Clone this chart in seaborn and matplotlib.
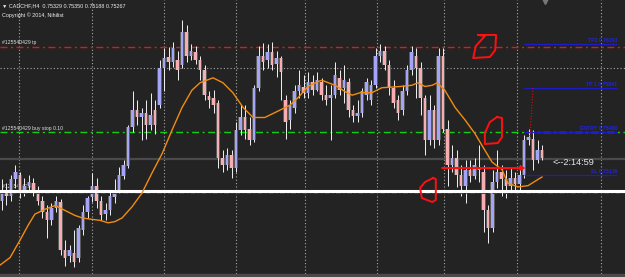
import matplotlib
matplotlib.use("Agg")
import matplotlib.pyplot as plt
import seaborn as sns
import pandas as pd
import numpy as np

# ---------------- data ----------------
opens = [0.7493, 0.7501, 0.7497, 0.7510, 0.7514, 0.7501, 0.7505, 0.7507, 0.7501, 0.7493,
         0.7484, 0.7477, 0.7487, 0.7492, 0.7453, 0.7448, 0.7451, 0.7447, 0.7469, 0.7484,
         0.7496, 0.7505, 0.7493, 0.7482, 0.7485, 0.7496, 0.7501, 0.7513, 0.7521, 0.7552,
         0.7566, 0.7560, 0.7564, 0.7554, 0.7566, 0.7570, 0.7600, 0.7609, 0.7605, 0.7606,
         0.7602, 0.7629, 0.7610, 0.7613, 0.7606, 0.7598, 0.7577, 0.7576, 0.7572, 0.7527,
         0.7522, 0.7530, 0.7519, 0.7550, 0.7560, 0.7551, 0.7542, 0.7584, 0.7610, 0.7606,
         0.7613, 0.7603, 0.7608, 0.7574, 0.7558, 0.7568, 0.7581, 0.7585, 0.7580, 0.7589,
         0.7582, 0.7589, 0.7578, 0.7576, 0.7578, 0.7592, 0.7584, 0.7589, 0.7566, 0.7561,
         0.7564, 0.7578, 0.7574, 0.7586, 0.7610, 0.7614, 0.7602, 0.7584, 0.7574, 0.7566,
         0.7581, 0.7598, 0.7610, 0.7600, 0.7576, 0.7542, 0.7566, 0.7542, 0.7610, 0.7551,
         0.7522, 0.7527, 0.7514, 0.7505, 0.7518, 0.7513, 0.7520, 0.7516, 0.7485, 0.7471,
         0.7508, 0.7516, 0.7510, 0.7505, 0.7511, 0.7506, 0.7514, 0.7542, 0.7543, 0.7526,
         0.7534]
highs = [0.7510, 0.7507, 0.7514, 0.7522, 0.7516, 0.7511, 0.7514, 0.7511, 0.7505, 0.7497,
         0.7489, 0.7491, 0.7497, 0.7494, 0.7461, 0.7457, 0.7469, 0.7473, 0.7489, 0.7497,
         0.7515, 0.7511, 0.7497, 0.7491, 0.7500, 0.7510, 0.7520, 0.7526, 0.7554, 0.7581,
         0.7574, 0.7568, 0.7574, 0.7580, 0.7574, 0.7606, 0.7616, 0.7617, 0.7621, 0.7614,
         0.7639, 0.7635, 0.7619, 0.7618, 0.7610, 0.7602, 0.7581, 0.7582, 0.7574, 0.7534,
         0.7535, 0.7534, 0.7556, 0.7570, 0.7570, 0.7560, 0.7586, 0.7618, 0.7620, 0.7619,
         0.7621, 0.7614, 0.7610, 0.7578, 0.7574, 0.7586, 0.7598, 0.7594, 0.7597, 0.7594,
         0.7597, 0.7592, 0.7586, 0.7586, 0.7605, 0.7598, 0.7602, 0.7592, 0.7570, 0.7574,
         0.7584, 0.7592, 0.7590, 0.7616, 0.7619, 0.7618, 0.7606, 0.7590, 0.7578, 0.7586,
         0.7602, 0.7618, 0.7616, 0.7605, 0.7578, 0.7578, 0.7570, 0.7616, 0.7616, 0.7558,
         0.7538, 0.7534, 0.7522, 0.7526, 0.7526, 0.7527, 0.7538, 0.7522, 0.7489, 0.7518,
         0.7534, 0.7522, 0.7518, 0.7519, 0.7516, 0.7522, 0.7546, 0.7551, 0.7550, 0.7542,
         0.7538]
lows = [0.7485, 0.7489, 0.7493, 0.7503, 0.7495, 0.7497, 0.7500, 0.7497, 0.7489, 0.7479,
        0.7463, 0.7473, 0.7484, 0.7449, 0.7440, 0.7443, 0.7439, 0.7443, 0.7465, 0.7479,
        0.7492, 0.7487, 0.7477, 0.7477, 0.7481, 0.7491, 0.7499, 0.7510, 0.7519, 0.7548,
        0.7554, 0.7542, 0.7543, 0.7550, 0.7547, 0.7568, 0.7581, 0.7598, 0.7601, 0.7590,
        0.7600, 0.7605, 0.7606, 0.7603, 0.7590, 0.7574, 0.7568, 0.7564, 0.7519, 0.7516,
        0.7518, 0.7511, 0.7516, 0.7546, 0.7543, 0.7538, 0.7540, 0.7581, 0.7598, 0.7600,
        0.7598, 0.7593, 0.7574, 0.7543, 0.7551, 0.7564, 0.7576, 0.7576, 0.7576, 0.7578,
        0.7581, 0.7574, 0.7570, 0.7542, 0.7576, 0.7578, 0.7572, 0.7560, 0.7556, 0.7556,
        0.7560, 0.7574, 0.7570, 0.7584, 0.7605, 0.7598, 0.7578, 0.7568, 0.7558, 0.7562,
        0.7578, 0.7594, 0.7576, 0.7562, 0.7530, 0.7538, 0.7535, 0.7538, 0.7548, 0.7505,
        0.7516, 0.7504, 0.7497, 0.7491, 0.7508, 0.7510, 0.7508, 0.7468, 0.7459, 0.7468,
        0.7503, 0.7497, 0.7495, 0.7500, 0.7501, 0.7501, 0.7511, 0.7538, 0.7518, 0.7523,
        0.7526]
closes = [0.7501, 0.7497, 0.7510, 0.7516, 0.7501, 0.7505, 0.7508, 0.7501, 0.7493, 0.7484,
          0.7477, 0.7487, 0.7493, 0.7453, 0.7447, 0.7453, 0.7443, 0.7471, 0.7484, 0.7495,
          0.7505, 0.7493, 0.7481, 0.7485, 0.7497, 0.7501, 0.7514, 0.7522, 0.7552, 0.7566,
          0.7560, 0.7564, 0.7554, 0.7562, 0.7554, 0.7600, 0.7608, 0.7605, 0.7616, 0.7598,
          0.7629, 0.7610, 0.7614, 0.7606, 0.7598, 0.7578, 0.7574, 0.7570, 0.7527, 0.7522,
          0.7530, 0.7519, 0.7550, 0.7560, 0.7550, 0.7542, 0.7584, 0.7610, 0.7605, 0.7613,
          0.7602, 0.7608, 0.7597, 0.7556, 0.7570, 0.7581, 0.7586, 0.7580, 0.7589, 0.7582,
          0.7590, 0.7578, 0.7574, 0.7578, 0.7594, 0.7582, 0.7590, 0.7566, 0.7561, 0.7564,
          0.7581, 0.7589, 0.7586, 0.7610, 0.7614, 0.7602, 0.7584, 0.7572, 0.7564, 0.7581,
          0.7598, 0.7613, 0.7600, 0.7576, 0.7542, 0.7566, 0.7542, 0.7610, 0.7551, 0.7522,
          0.7527, 0.7514, 0.7505, 0.7518, 0.7513, 0.7522, 0.7518, 0.7485, 0.7471, 0.7508,
          0.7516, 0.7510, 0.7505, 0.7511, 0.7506, 0.7514, 0.7542, 0.7544, 0.7526, 0.7534,
          0.7527]

# moving average (orange), read as (bar index, price) points
ma_bar = [-0.4, 1.8, 4.0, 5.8, 7.3, 9.6, 11.8, 14.0, 16.2, 17.8, 19.6, 21.8, 23.6, 25.1,
          26.7, 28.9, 31.1, 33.3, 35.6, 37.8, 40.0, 42.2, 44.0, 46.9, 49.1, 51.3, 53.6,
          55.8, 58.4, 61.8, 64.0, 65.8, 68.0, 70.2, 71.1, 74.0, 76.2, 77.8, 79.6, 82.2,
          84.4, 88.4, 91.1, 92.4, 94.0, 95.6, 96.7, 98.4, 100.7, 102.9, 105.1, 106.9,
          108.9, 111.1, 112.4, 114.7, 116.9, 119.1, 120.0]
ma_val = [0.7441, 0.7447, 0.7461, 0.7473, 0.7482, 0.7486, 0.7489, 0.7485, 0.7481, 0.7479,
          0.7478, 0.7477, 0.7475, 0.7476, 0.7479, 0.7488, 0.7499, 0.7515, 0.7531, 0.7550,
          0.7568, 0.7582, 0.7588, 0.7592, 0.7588, 0.7580, 0.7568, 0.7560, 0.7560, 0.7566,
          0.7570, 0.7576, 0.7585, 0.7589, 0.7590, 0.7586, 0.7581, 0.7578, 0.7580, 0.7580,
          0.7584, 0.7585, 0.7586, 0.7588, 0.7585, 0.7586, 0.7588, 0.7582, 0.7568, 0.7558,
          0.7547, 0.7536, 0.7524, 0.7518, 0.7507, 0.7504, 0.7505, 0.7510, 0.7512]

# order levels
tp_order = 0.7617
buy_stop = 0.75480
bid = 0.75267
round_level = 0.7501
sl_order = 0.7499
grid_price = 0.7600
grid_bars = [3.8, 20.0, 36.0, 52.0, 67.3, 83.3, 98.2, 114.4, 133.1]

level_names = ["TP2 0.76193", "TP 1 0.75841", "ENTRY 0.75480", "SL 0.75136"]
level_prices = [0.76193, 0.75841, 0.75480, 0.75136]

header = "\u25BC CADCHF,H4  0.75329 0.75350 0.75188 0.75267"
copyright_txt = "Copyright \u00A9 2014, Nihilist"
timer_txt = "<--2:14:59"

# hand-drawn red marks (bar index, price)
mark1_x = [105.8, 109.8, 109.6, 108.4, 104.7, 105.3, 107.3, 105.8]
mark1_y = [0.76266, 0.76266, 0.76144, 0.76088, 0.76080, 0.76177, 0.76257, 0.76266]
mark2_x = [110.0, 111.1, 111.1, 110.2, 107.3, 107.3, 108.4, 110.0]
mark2_y = [0.75604, 0.75596, 0.75442, 0.75394, 0.75386, 0.75475, 0.75563, 0.75604]
mark3_x = [95.8, 96.4, 96.4, 95.6, 93.3, 92.9, 94.0, 95.8]
mark3_y = [0.75112, 0.75103, 0.74934, 0.74918, 0.74950, 0.75031, 0.75079, 0.75112]
arrow_bars = [97.8, 116.4]
arrow_price = 0.75192
dotted_bars = [118.0, 117.3]
dotted_prices = [0.75838, 0.75442]

# ---------------- drawing ----------------
BG = "#232323"
fig = plt.figure(figsize=(6.25, 2.77), dpi=100, facecolor=BG)
ax = fig.add_axes([0, 0, 1, 1])
ax.set_facecolor(BG)
XL = (-0.444, 138.44)
YL = (0.74313, 0.76548)

FONT = ["Liberation Sans", "DejaVu Sans"]

# grid
for gx in grid_bars:
    ax.axvline(gx, color="#a8a8a8", lw=0.8, ls=(0, (1, 2)), zorder=1)
ax.axhline(grid_price, color="#a8a8a8", lw=0.8, ls=(0, (1, 2)), zorder=1)

# order / level lines
ax.axhline(tp_order, color="#e01818", lw=1.0, ls=(0, (5, 2.5, 1.5, 2.5)), zorder=1)
ax.axhline(buy_stop, color="#10d010", lw=1.0, ls=(0, (5, 2.5, 1.5, 2.5)), zorder=1)
ax.axhline(bid, color="#4a4a4a", lw=1.6, zorder=1)
ax.axhline(round_level, color="white", lw=2.2, zorder=4)
ax.axhline(sl_order, color="#c01010", lw=0.7, ls=(0, (5, 2.5, 1.5, 2.5)), zorder=4)

# order texts
tkw = dict(color="#e0e0e0", fontsize=3.7, family=FONT, va="bottom", ha="left", zorder=2)
ax.text(0.0, tp_order + 0.00012, "#125540429 tp", **tkw)
ax.text(0.0, buy_stop + 0.00012, "#125540429 buy stop 0.10", **tkw)
ax.text(0.0, round_level + 0.00012, "#125540429 sl", **tkw)

# candles
df = pd.DataFrame({"bar": np.arange(len(opens)), "open": opens, "high": highs,
                   "low": lows, "close": closes})
up = df["close"] >= df["open"]
ax.vlines(df["bar"], df["low"], df["high"], color="#f2f2f2", lw=0.7, zorder=3)
body_h = (df["close"] - df["open"]).abs().clip(lower=0.00004)
body_b = df[["open", "close"]].min(axis=1)
ax.bar(df["bar"], body_h, bottom=body_b, width=0.95,
       color="#5a5a5a", edgecolor="none", zorder=2.9)
ax.bar(df["bar"][up], body_h[up], bottom=body_b[up], width=0.6,
       color="#a4a4f8", edgecolor="none", zorder=3.2)
ax.bar(df["bar"][~up], body_h[~up], bottom=body_b[~up], width=0.6,
       color="#f8aeb0", edgecolor="none", zorder=3.2)

# moving average
ma_df = pd.DataFrame({"bar": ma_bar, "ma": ma_val})
sns.lineplot(data=ma_df, x="bar", y="ma", ax=ax, color="#f28c10", lw=1.0,
             sort=False, estimator=None, zorder=5)

# blue trade levels on the right
for name, p in zip(level_names, level_prices):
    ax.hlines(p, 116.0, 136.7, color="#1c1cc8", lw=0.9, zorder=5)
    ax.text(136.7, p + 0.00008, name, color="#2424d8", fontsize=3.7, family=FONT,
            ha="right", va="bottom", fontweight="bold", zorder=6)

# red dotted line, arrow, hand marks
ax.plot(dotted_bars, dotted_prices, color="#d01010", lw=0.8, ls=(0, (1, 1.5)), zorder=6)
ax.annotate("", xy=(arrow_bars[1], arrow_price), xytext=(arrow_bars[0], arrow_price),
            arrowprops=dict(arrowstyle="-|>", color="#ff1010", lw=1.5,
                            mutation_scale=6, shrinkA=0, shrinkB=0), zorder=7)
for mx, my in [(mark1_x, mark1_y), (mark2_x, mark2_y), (mark3_x, mark3_y)]:
    ax.plot(mx, my, color="#ff1010", lw=1.4, zorder=7, solid_joinstyle="round")

# timer text
ax.text(122.4, bid - 0.00034, timer_txt, color="#e6e6e6", fontsize=6.6, family=FONT,
        ha="left", va="center", zorder=6)

# header
ax.text(2 / 625, 1 - 6 / 277, header, transform=ax.transAxes, color="#f0f0f0",
        fontsize=3.9, family=FONT, ha="left", va="center", zorder=8)
ax.text(2 / 625, 1 - 15 / 277, copyright_txt, transform=ax.transAxes, color="#f0f0f0",
        fontsize=3.9, family=FONT, ha="left", va="center", zorder=8)

# chart-shift marker and bottom strip
ax.plot([545 / 625], [1 - 1 / 277], marker="v", ms=4, color="#777777",
        transform=ax.transAxes, zorder=8, clip_on=False)
ax.axhspan(YL[0], YL[0] + 0.00025, color="#4a4a4a", zorder=8)

ax.axis("off")
ax.set_xlim(*XL)
ax.set_ylim(*YL)

fig.savefig("out.png", dpi=100, facecolor=BG)
